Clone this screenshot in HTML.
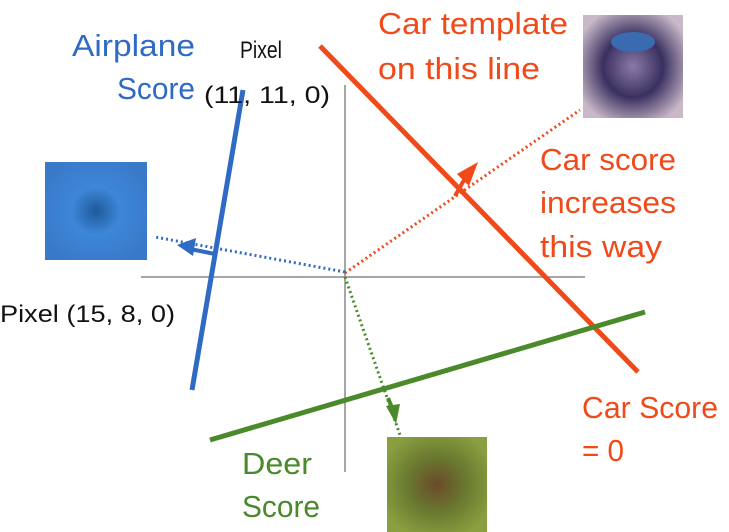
<!DOCTYPE html>
<html><head><meta charset="utf-8"><style>
html,body{margin:0;padding:0;background:#fff;}
svg{display:block;}
text{font-family:"Liberation Sans Narrow","Liberation Sans",sans-serif;}
</style></head><body>
<svg width="729" height="532" viewBox="0 0 729 532" xmlns="http://www.w3.org/2000/svg">
<defs>
<radialGradient id="bl" cx="0.5" cy="0.5" r="0.6"><stop offset="0" stop-color="#1f5a9a"/><stop offset="0.4" stop-color="#3d86d8"/><stop offset="1" stop-color="#3a78c8"/></radialGradient>
<radialGradient id="car" cx="0.5" cy="0.5" r="0.6"><stop offset="0" stop-color="#8a7aa8"/><stop offset="0.5" stop-color="#3a3060"/><stop offset="1" stop-color="#c8b8c8"/></radialGradient>
<radialGradient id="deer" cx="0.5" cy="0.5" r="0.6"><stop offset="0" stop-color="#6a4a2a"/><stop offset="0.5" stop-color="#6a7a30"/><stop offset="1" stop-color="#8aa040"/></radialGradient>
</defs>
<rect x="45" y="162" width="102" height="98" fill="url(#bl)"/>
<rect x="583" y="15" width="100" height="103" fill="url(#car)"/>
<ellipse cx="633" cy="42" rx="22" ry="10" fill="#3a6ab0"/>
<rect x="387" y="437" width="100" height="95" fill="url(#deer)"/>
<line x1="345" y1="85" x2="345" y2="472" stroke="#888" stroke-width="1.5"/>
<line x1="141" y1="277" x2="585" y2="277" stroke="#888" stroke-width="1.5"/>
<line x1="243" y1="90" x2="192" y2="390" stroke="#2f6bc4" stroke-width="5"/>
<line x1="320" y1="46" x2="638" y2="372" stroke="#f04a1a" stroke-width="5"/>
<line x1="210" y1="440" x2="645" y2="312" stroke="#4a8a2a" stroke-width="5"/>
<line x1="345" y1="273" x2="580" y2="110" stroke="#f04a1a" stroke-width="3" stroke-dasharray="2,3"/>
<line x1="455" y1="196" x2="464" y2="180" stroke="#f04a1a" stroke-width="4"/>
<polygon points="478,162 457,174 469,186" fill="#f04a1a"/>
<line x1="345" y1="272" x2="155" y2="237" stroke="#2f6bc4" stroke-width="3" stroke-dasharray="2,3"/>
<line x1="215" y1="254" x2="190" y2="249" stroke="#2f6bc4" stroke-width="4"/>
<polygon points="177,245 196,238 193,256" fill="#2f6bc4"/>
<line x1="345" y1="277" x2="400" y2="435" stroke="#4a8a2a" stroke-width="3" stroke-dasharray="2,3"/>
<line x1="388" y1="398" x2="393" y2="410" stroke="#4a8a2a" stroke-width="4"/>
<polygon points="396,424 386,406 400,404" fill="#4a8a2a"/>
<g font-size="31">
<text x="72" y="56" fill="#2f6bc4" textLength="123" lengthAdjust="spacingAndGlyphs">Airplane</text>
<text x="117" y="99" fill="#2f6bc4" textLength="78" lengthAdjust="spacingAndGlyphs">Score</text>
<text x="378" y="34" fill="#f04a1a" textLength="190" lengthAdjust="spacingAndGlyphs">Car template</text>
<text x="378" y="79" fill="#f04a1a" textLength="162" lengthAdjust="spacingAndGlyphs">on this line</text>
<text x="540" y="170" fill="#f04a1a" textLength="136" lengthAdjust="spacingAndGlyphs">Car score</text>
<text x="540" y="213" fill="#f04a1a" textLength="136" lengthAdjust="spacingAndGlyphs">increases</text>
<text x="540" y="257" fill="#f04a1a" textLength="122" lengthAdjust="spacingAndGlyphs">this way</text>
<text x="582" y="418" fill="#f04a1a" textLength="136" lengthAdjust="spacingAndGlyphs">Car Score</text>
<text x="582" y="461" fill="#f04a1a" textLength="42" lengthAdjust="spacingAndGlyphs">= 0</text>
<text x="242" y="474" fill="#4a8a2a" textLength="70" lengthAdjust="spacingAndGlyphs">Deer</text>
<text x="242" y="517" fill="#4a8a2a" textLength="78" lengthAdjust="spacingAndGlyphs">Score</text>
</g>
<g font-size="24" fill="#111">
<text x="240" y="58" textLength="42" lengthAdjust="spacingAndGlyphs">Pixel</text>
<text x="204" y="103" textLength="126" lengthAdjust="spacingAndGlyphs">(11, 11, 0)</text>
<text x="0" y="322" textLength="175" lengthAdjust="spacingAndGlyphs">Pixel (15, 8, 0)</text>
</g>
</svg>
</body></html>
